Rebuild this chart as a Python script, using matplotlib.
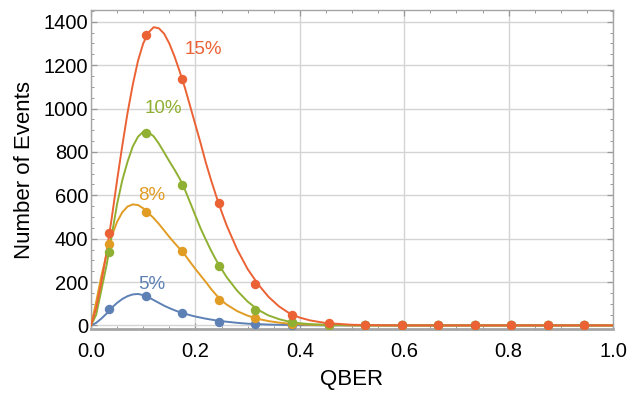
import matplotlib
matplotlib.use("Agg")

import matplotlib.pyplot as plt
from matplotlib.ticker import MultipleLocator

plt.rcParams["font.family"] = ["Liberation Sans", "DejaVu Sans"]

# measured points (bin centres)
qber_bins = [0.035, 0.105, 0.175, 0.245, 0.315, 0.385, 0.455, 0.525, 0.595, 0.665, 0.735, 0.805, 0.875, 0.945]
events_5 = [75, 135, 58, 16, 5, 1, 0, 0, 0, 0, 0, 0, 0, 0]
events_8 = [376, 521, 344, 117, 32, 5, 1, 0, 0, 0, 0, 0, 0, 0]
events_10 = [340, 886, 648, 272, 70, 15, 2, 0, 0, 0, 0, 0, 0, 0]
events_15 = [426, 1337, 1135, 565, 190, 46, 10, 2, 1, 0, 0, 0, 0, 0]

# fitted curves
fit_x = [0.0, 0.01, 0.02, 0.03, 0.04, 0.05, 0.06, 0.07, 0.08, 0.09, 0.10, 0.11, 0.12, 0.13,
         0.14, 0.15, 0.16, 0.17, 0.18, 0.19, 0.20, 0.21, 0.22, 0.23, 0.24, 0.25, 0.26, 0.28,
         0.30, 0.32, 0.34, 0.36, 0.38, 0.40, 0.42, 0.45, 0.50, 0.55, 0.60, 0.80, 1.0]
fit_5 = [0, 12, 32, 55, 82, 104, 122, 135, 143, 145, 140, 130, 117, 104,
         91, 80, 70, 61, 54, 47, 41, 36, 31, 27, 23, 20, 17, 12,
         8, 6, 4, 3, 2, 1, 1, 0, 0, 0, 0, 0, 0]
fit_8 = [0, 110, 230, 330, 415, 478, 522, 548, 558, 555, 540, 518, 495, 468,
         438, 408, 380, 353, 325, 292, 260, 230, 200, 168, 140, 115, 96, 66,
         45, 30, 20, 13, 8, 5, 3, 2, 0, 0, 0, 0, 0]
fit_10 = [0, 50, 165, 280, 420, 560, 670, 755, 825, 870, 893, 890, 872, 838,
          798, 757, 718, 676, 625, 566, 506, 447, 395, 345, 300, 260, 222, 160,
          110, 72, 46, 29, 17, 10, 6, 3, 1, 0, 0, 0, 0]
fit_15 = [0, 80, 200, 340, 500, 670, 830, 980, 1110, 1220, 1300, 1350, 1375, 1370,
          1345, 1300, 1240, 1170, 1095, 1010, 925, 840, 750, 670, 595, 525, 460, 350,
          260, 190, 132, 88, 56, 36, 23, 11, 3, 1, 0, 0, 0]

colors = {"5%": "#5E81B5", "8%": "#E19C24", "10%": "#8FB032", "15%": "#EB6235"}

fig = plt.figure(figsize=(6.32, 3.93), dpi=100)
ax = fig.add_axes([0.144, 0.162, 0.826, 0.813])

series = [("5%", fit_5, events_5), ("8%", fit_8, events_8),
          ("10%", fit_10, events_10), ("15%", fit_15, events_15)]
for name, fit, pts in series:
    c = colors[name]
    ax.plot(fit_x, fit, color=c, lw=1.4, zorder=3)
    ax.plot(qber_bins, pts, "o", color=c, markersize=6.8, markeredgewidth=0, zorder=4)

# curve labels
ax.text(0.215, 1270, "15%", color=colors["15%"], fontsize=13.5, ha="center", va="center")
ax.text(0.138, 1000, "10%", color=colors["10%"], fontsize=13.5, ha="center", va="center")
ax.text(0.116, 597, "8%", color=colors["8%"], fontsize=13.5, ha="center", va="center")
ax.text(0.117, 188, "5%", color=colors["5%"], fontsize=13.5, ha="center", va="center")

ax.set_xlim(0, 1.0)
ax.set_ylim(-18, 1455)
ax.xaxis.set_major_locator(MultipleLocator(0.2))
ax.xaxis.set_minor_locator(MultipleLocator(0.05))
ax.yaxis.set_major_locator(MultipleLocator(200))
ax.yaxis.set_minor_locator(MultipleLocator(50))
ax.xaxis.set_major_formatter(plt.FuncFormatter(lambda v, _: f"{v:.1f}"))

ax.grid(True, which="major", color="#d4d4d4", lw=1.0, zorder=0)
ax.tick_params(which="both", direction="in", top=True, right=True, colors="#999999",
               labelcolor="black", labelsize=14.5)
ax.tick_params(which="major", length=4.5, width=0.9)
ax.tick_params(which="minor", length=2.5, width=0.7)
ax.tick_params(axis="x", which="major", pad=9)
ax.tick_params(axis="y", which="major", pad=2)
for s in ax.spines.values():
    s.set_color("#a6a6a6")
    s.set_linewidth(1.0)
ax.spines["bottom"].set_linewidth(2.0)

ax.set_xlabel("QBER", fontsize=16, labelpad=6)
ax.set_ylabel("Number of Events", fontsize=16, labelpad=6)

fig.savefig("out.png", dpi=100)
plt.close(fig)
